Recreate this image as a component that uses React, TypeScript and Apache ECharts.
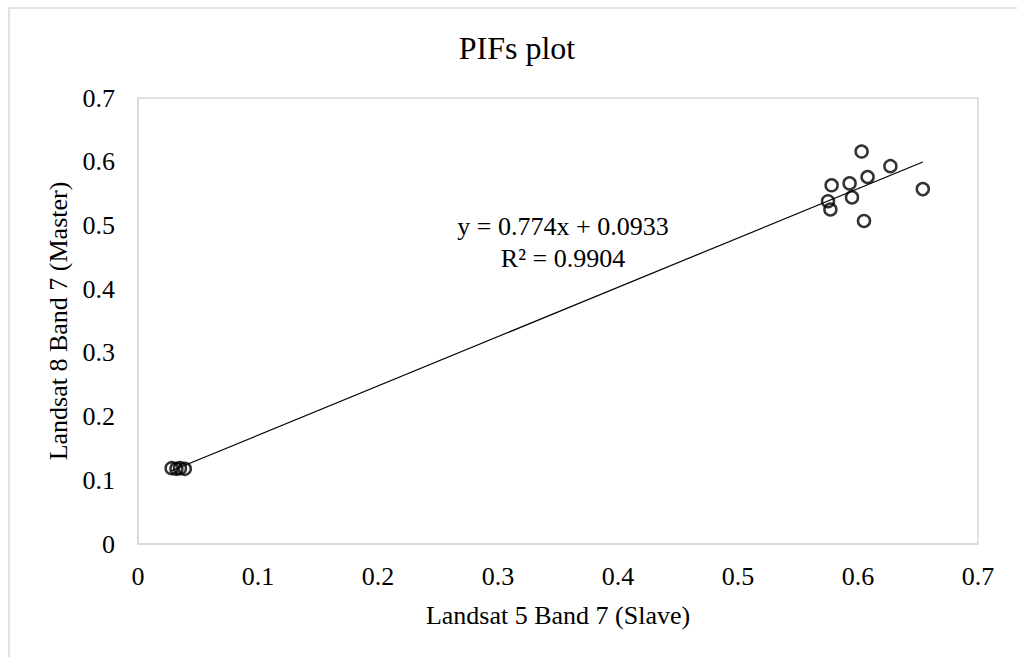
import React, { useEffect, useRef } from "react";
import * as echarts from "echarts";

const FONT = '"Liberation Serif", "Times New Roman", serif';

const slaveValues = [0.603, 0.627, 0.608, 0.578, 0.593, 0.654, 0.575, 0.595, 0.577, 0.605, 0.028, 0.032, 0.035, 0.039];
const masterValues = [0.616, 0.593, 0.576, 0.563, 0.566, 0.557, 0.538, 0.544, 0.525, 0.507, 0.119, 0.118, 0.119, 0.118];
const trendSlope = 0.774;
const trendIntercept = 0.0933;
const rSquared = 0.9904;
const axisTicks = [0, 0.1, 0.2, 0.3, 0.4, 0.5, 0.6, 0.7];

export default function App() {
  const ref = useRef<HTMLDivElement>(null);
  useEffect(() => {
    if (!ref.current) return;
    const chart = echarts.init(ref.current, null, { renderer: "svg" });
    const points = slaveValues.map((x, i) => [x, masterValues[i]]);
    const xMin = Math.min(...slaveValues);
    const xMax = Math.max(...slaveValues);
    const trend = [
      [xMin, trendSlope * xMin + trendIntercept],
      [xMax, trendSlope * xMax + trendIntercept],
    ];
    const axisCommon = {
      min: axisTicks[0],
      max: axisTicks[axisTicks.length - 1],
      interval: 0.1,
      splitLine: { show: false },
      axisTick: { show: false },
      axisLine: { show: true, lineStyle: { color: "#d9d9d9", width: 1.5 } },
      nameTextStyle: { fontFamily: FONT, fontSize: 26, color: "#000" },
      axisLabel: { fontFamily: FONT, fontSize: 26, color: "#000", formatter: (v: number) => String(Math.round(v * 10) / 10) },
    };
    chart.setOption({
      animation: false,
      backgroundColor: "#fff",
      grid: { left: 138, right: 39, top: 98, bottom: 113, show: true, borderColor: "#d9d9d9", borderWidth: 1.5 },
      xAxis: {
        type: "value",
        ...axisCommon,
        name: "Landsat 5 Band 7 (Slave)",
        nameLocation: "middle",
        nameGap: 58,
        axisLabel: { ...axisCommon.axisLabel, margin: 19 },
      },
      yAxis: {
        type: "value",
        ...axisCommon,
        name: "Landsat 8 Band 7 (Master)",
        nameLocation: "middle",
        nameGap: 64,
        axisLabel: { ...axisCommon.axisLabel, margin: 23 },
      },
      graphic: [
        {
          type: "rect",
          shape: { x: 9, y: 8, width: 1100, height: 700 },
          style: { fill: "none", stroke: "#d9d9d9", lineWidth: 1.5 },
          silent: true,
          z: -1,
        },
        {
          type: "text",
          x: 517,
          y: 48,
          style: { text: "PIFs plot", fontFamily: FONT, fontSize: 32, fill: "#000", textAlign: "center", textVerticalAlign: "middle" },
        },
        {
          type: "text",
          x: 563,
          y: 226,
          style: { text: `y = ${trendSlope}x + ${trendIntercept}`, fontFamily: FONT, fontSize: 26, fill: "#000", textAlign: "center", textVerticalAlign: "middle" },
        },
        {
          type: "text",
          x: 563,
          y: 258,
          style: { text: `R² = ${rSquared}`, fontFamily: FONT, fontSize: 26, fill: "#000", textAlign: "center", textVerticalAlign: "middle" },
        },
      ],
      series: [
        {
          type: "line",
          data: trend,
          symbol: "none",
          lineStyle: { color: "#000", width: 1.2 },
          z: 1,
        },
        {
          type: "scatter",
          data: points,
          symbol: "circle",
          symbolSize: 12,
          itemStyle: { color: "rgba(255,255,255,0)", borderColor: "#000", borderWidth: 2.5 },
          z: 2,
        },
      ],
    });
    return () => chart.dispose();
  }, []);
  return <div ref={ref} style={{ position: "absolute", left: 0, top: 0, width: 1017, height: 657 }} />;
}
